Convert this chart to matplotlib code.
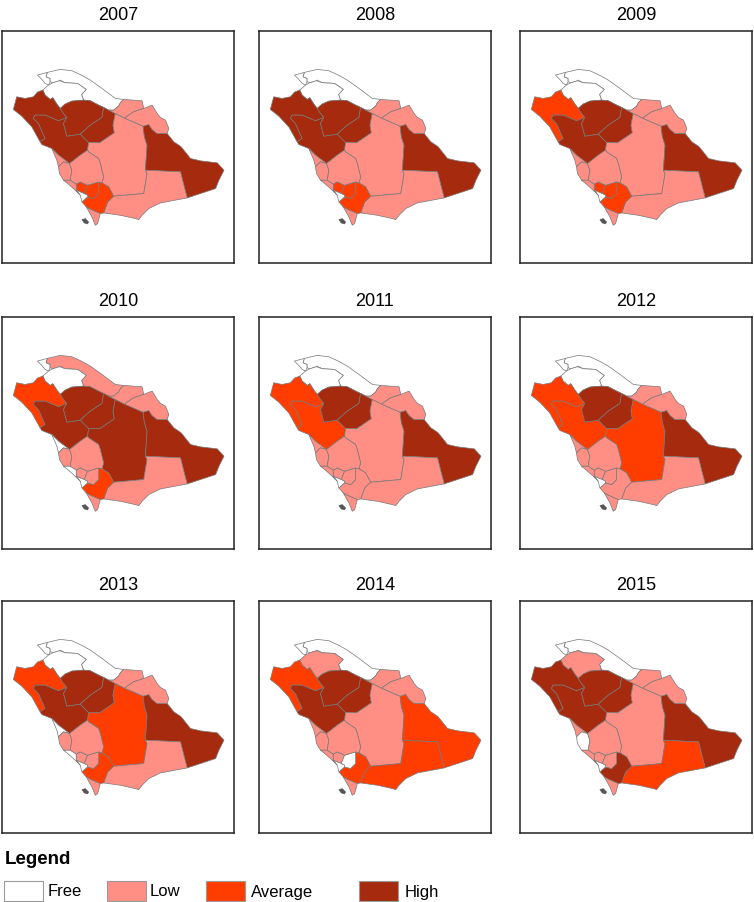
import matplotlib
matplotlib.use('Agg')
import matplotlib.pyplot as plt
from matplotlib.patches import Rectangle

plt.rcParams['font.family'] = ['Liberation Sans', 'DejaVu Sans']

# region outlines, in map units (image y runs downward)
tip = [(112, 135), (142, 127), (138, 140), (150, 145), (150, 155), (145, 165), (135, 160), (125, 148)]
strip = [(142, 127), (180, 118), (215, 122), (245, 136), (270, 150), (305, 175), (345, 205), (370, 208),
         (360, 218), (355, 228), (340, 240), (325, 240), (310, 232), (295, 225), (270, 212), (250, 210),
         (244, 193), (258, 178), (232, 160), (195, 158), (180, 150), (178, 152), (158, 158), (150, 155),
         (150, 145), (138, 140)]
inner = [(128, 180), (145, 165), (158, 158), (178, 152), (195, 158), (232, 160), (258, 178), (244, 193),
         (250, 210), (215, 213), (195, 222), (180, 235), (170, 222), (158, 203), (150, 208), (135, 195)]
northwest = [(40, 238), (50, 200), (75, 205), (100, 200), (112, 186), (128, 180), (135, 195), (150, 208),
             (158, 203), (170, 222), (180, 235), (190, 250), (200, 262), (175, 272), (135, 255), (105, 255),
             (100, 265), (115, 280), (135, 325), (120, 335), (95, 290), (65, 258)]
medina = [(105, 255), (135, 255), (175, 272), (200, 262), (190, 280), (200, 318), (240, 312), (265, 337),
          (262, 360), (240, 375), (208, 400), (175, 375), (155, 355), (125, 343), (120, 335), (135, 325),
          (115, 280), (100, 265)]
hail = [(180, 235), (195, 222), (215, 213), (250, 210), (270, 212), (295, 225), (310, 232), (305, 262),
        (270, 285), (240, 312), (200, 318), (190, 280), (200, 262), (190, 250)]
qassim = [(310, 232), (325, 240), (345, 250), (338, 285), (342, 308), (298, 338), (265, 337), (240, 312),
          (270, 285), (305, 262)]
riyadh = [(345, 250), (375, 265), (428, 288), (432, 320), (440, 345), (435, 420), (440, 430), (430, 490),
          (340, 498), (325, 470), (305, 458), (310, 440), (300, 400), (295, 385), (265, 365), (262, 360),
          (265, 337), (298, 338), (342, 308), (338, 285)]
east = [(428, 288), (445, 283), (455, 298), (470, 310), (500, 310), (520, 335), (535, 345), (542, 350),
        (570, 385), (600, 392), (650, 398), (670, 420), (655, 450), (645, 475), (560, 503), (550, 465),
        (540, 425), (435, 420), (440, 345), (432, 320)]
south_east = [(435, 420), (540, 425), (550, 465), (560, 503), (480, 518), (445, 535), (425, 555), (415, 568),
              (405, 565), (360, 555), (310, 548), (322, 515), (340, 498), (430, 490), (440, 430)]
north_east1 = [(340, 240), (355, 228), (360, 218), (370, 208), (425, 212), (430, 235), (400, 245), (375, 262),
               (375, 265), (345, 250), (325, 240)]
north_east2 = [(375, 265), (375, 262), (400, 245), (430, 235), (455, 225), (470, 250), (480, 262), (495, 270),
               (505, 295), (500, 310), (470, 310), (455, 298), (445, 283), (428, 288)]
sw_main = [(295, 455), (305, 458), (325, 470), (340, 498), (322, 515), (310, 548), (300, 550), (270, 537),
           (258, 530), (245, 515), (262, 500), (280, 505), (295, 490)]
sw_small = [(228, 480), (228, 462), (240, 455), (262, 465), (252, 490)]
sw_inner = [(262, 465), (295, 455), (295, 490), (280, 505), (262, 500), (262, 495), (252, 490)]
sw_gap = [(228, 480), (252, 490), (262, 495), (262, 500), (245, 515), (240, 495)]
jazan = [(258, 530), (270, 537), (300, 550), (292, 580), (285, 585), (275, 560)]
coast = [(155, 355), (175, 375), (208, 400), (190, 395), (175, 410), (170, 390)]
west1 = [(175, 410), (190, 395), (208, 400), (215, 420), (210, 450), (190, 450), (178, 430)]
west2 = [(208, 400), (240, 375), (262, 360), (265, 365), (295, 385), (300, 400), (310, 440), (305, 458),
         (295, 455), (262, 465), (240, 455), (228, 462), (210, 450), (215, 420)]
west3 = [(190, 450), (210, 450), (228, 462), (228, 480), (240, 495), (225, 480), (205, 462)]
island = [(245, 568), (255, 565), (265, 575), (262, 581), (252, 578)]

regions = [tip, strip, inner, northwest, medina, hail, qassim, riyadh, east, south_east,
           north_east1, north_east2, sw_main, sw_small, sw_inner, sw_gap, jazan, coast, west1, west2, west3]

# class of each region, same order as regions: 0 free, 1 low, 2 average, 3 high
class_2007 = [0, 0, 0, 3, 3, 3, 3, 1, 3, 1, 1, 1, 2, 2, 2, 0, 1, 1, 1, 1, 1]
class_2008 = [0, 0, 0, 3, 3, 3, 3, 1, 3, 1, 1, 1, 2, 2, 2, 0, 1, 1, 1, 1, 1]
class_2009 = [0, 0, 0, 2, 3, 3, 3, 1, 3, 1, 1, 1, 2, 2, 2, 0, 1, 1, 1, 1, 1]
class_2010 = [0, 1, 0, 2, 3, 3, 3, 3, 3, 1, 1, 1, 2, 1, 1, 0, 1, 0, 1, 1, 0]
class_2011 = [0, 0, 0, 2, 2, 3, 3, 1, 3, 1, 1, 1, 1, 1, 1, 0, 1, 1, 1, 1, 1]
class_2012 = [0, 0, 0, 2, 2, 3, 3, 2, 3, 1, 1, 1, 1, 1, 1, 0, 1, 1, 1, 1, 1]
class_2013 = [0, 0, 0, 2, 3, 3, 3, 2, 3, 1, 1, 1, 2, 1, 1, 0, 1, 0, 1, 1, 0]
class_2014 = [0, 0, 1, 2, 3, 3, 3, 1, 2, 2, 1, 1, 2, 1, 0, 0, 1, 1, 1, 1, 1]
class_2015 = [0, 0, 1, 3, 3, 3, 3, 1, 3, 2, 1, 1, 3, 1, 1, 0, 1, 1, 0, 1, 1]

years = ['2007', '2008', '2009', '2010', '2011', '2012', '2013', '2014', '2015']
year_classes = [class_2007, class_2008, class_2009, class_2010, class_2011, class_2012,
                class_2013, class_2014, class_2015]

legend_labels = ['Free', 'Low', 'Average', 'High']
colors = ['#FFFFFF', '#FF8F85', '#FF3D00', '#A62B0E']

W, H = 754, 902
fig = plt.figure(figsize=(W / 100, H / 100), dpi=100)

col_left = [2, 259, 520]
row_top = [31, 317, 601]
title_y = [16, 302, 586]
box_w, box_h = 232, 232

for i, year in enumerate(years):
    r, c = i // 3, i % 3
    ax = fig.add_axes([col_left[c] / W, 1 - (row_top[r] + box_h) / H, box_w / W, box_h / H])
    for outline, k in zip(regions, year_classes[i]):
        xs, ys = zip(*outline)
        ax.fill(xs, ys, facecolor=colors[k], edgecolor='#777777', linewidth=0.5, joinstyle='round')
    xs, ys = zip(*island)
    ax.fill(xs, ys, facecolor='#555555', edgecolor='#555555', linewidth=0.4)
    ax.set_xlim(6, 700)
    ax.set_ylim(698, 3)
    ax.set_xticks([])
    ax.set_yticks([])
    for spine in ax.spines.values():
        spine.set_linewidth(1.1)
        spine.set_color('#222222')
    fig.text((col_left[c] + box_w / 2) / W, 1 - title_y[r] / H, year, fontsize=13,
             ha='center', va='center')

# legend
fig.text(5 / W, 1 - 860 / H, 'Legend', fontsize=13.5, fontweight='bold', ha='left', va='center')
swatch_x = [4, 107, 206, 359]
label_x = [48, 150, 251, 405]
for x, lx, label, col in zip(swatch_x, label_x, legend_labels, colors):
    fig.add_artist(Rectangle((x / W, 1 - 901 / H), 39 / W, 20 / H, transform=fig.transFigure,
                             facecolor=col, edgecolor='#9a9a9a', linewidth=0.8))
    fig.text(lx / W, 1 - 892 / H, label, fontsize=12, ha='left', va='center')

plt.savefig('out.png', dpi=100)
